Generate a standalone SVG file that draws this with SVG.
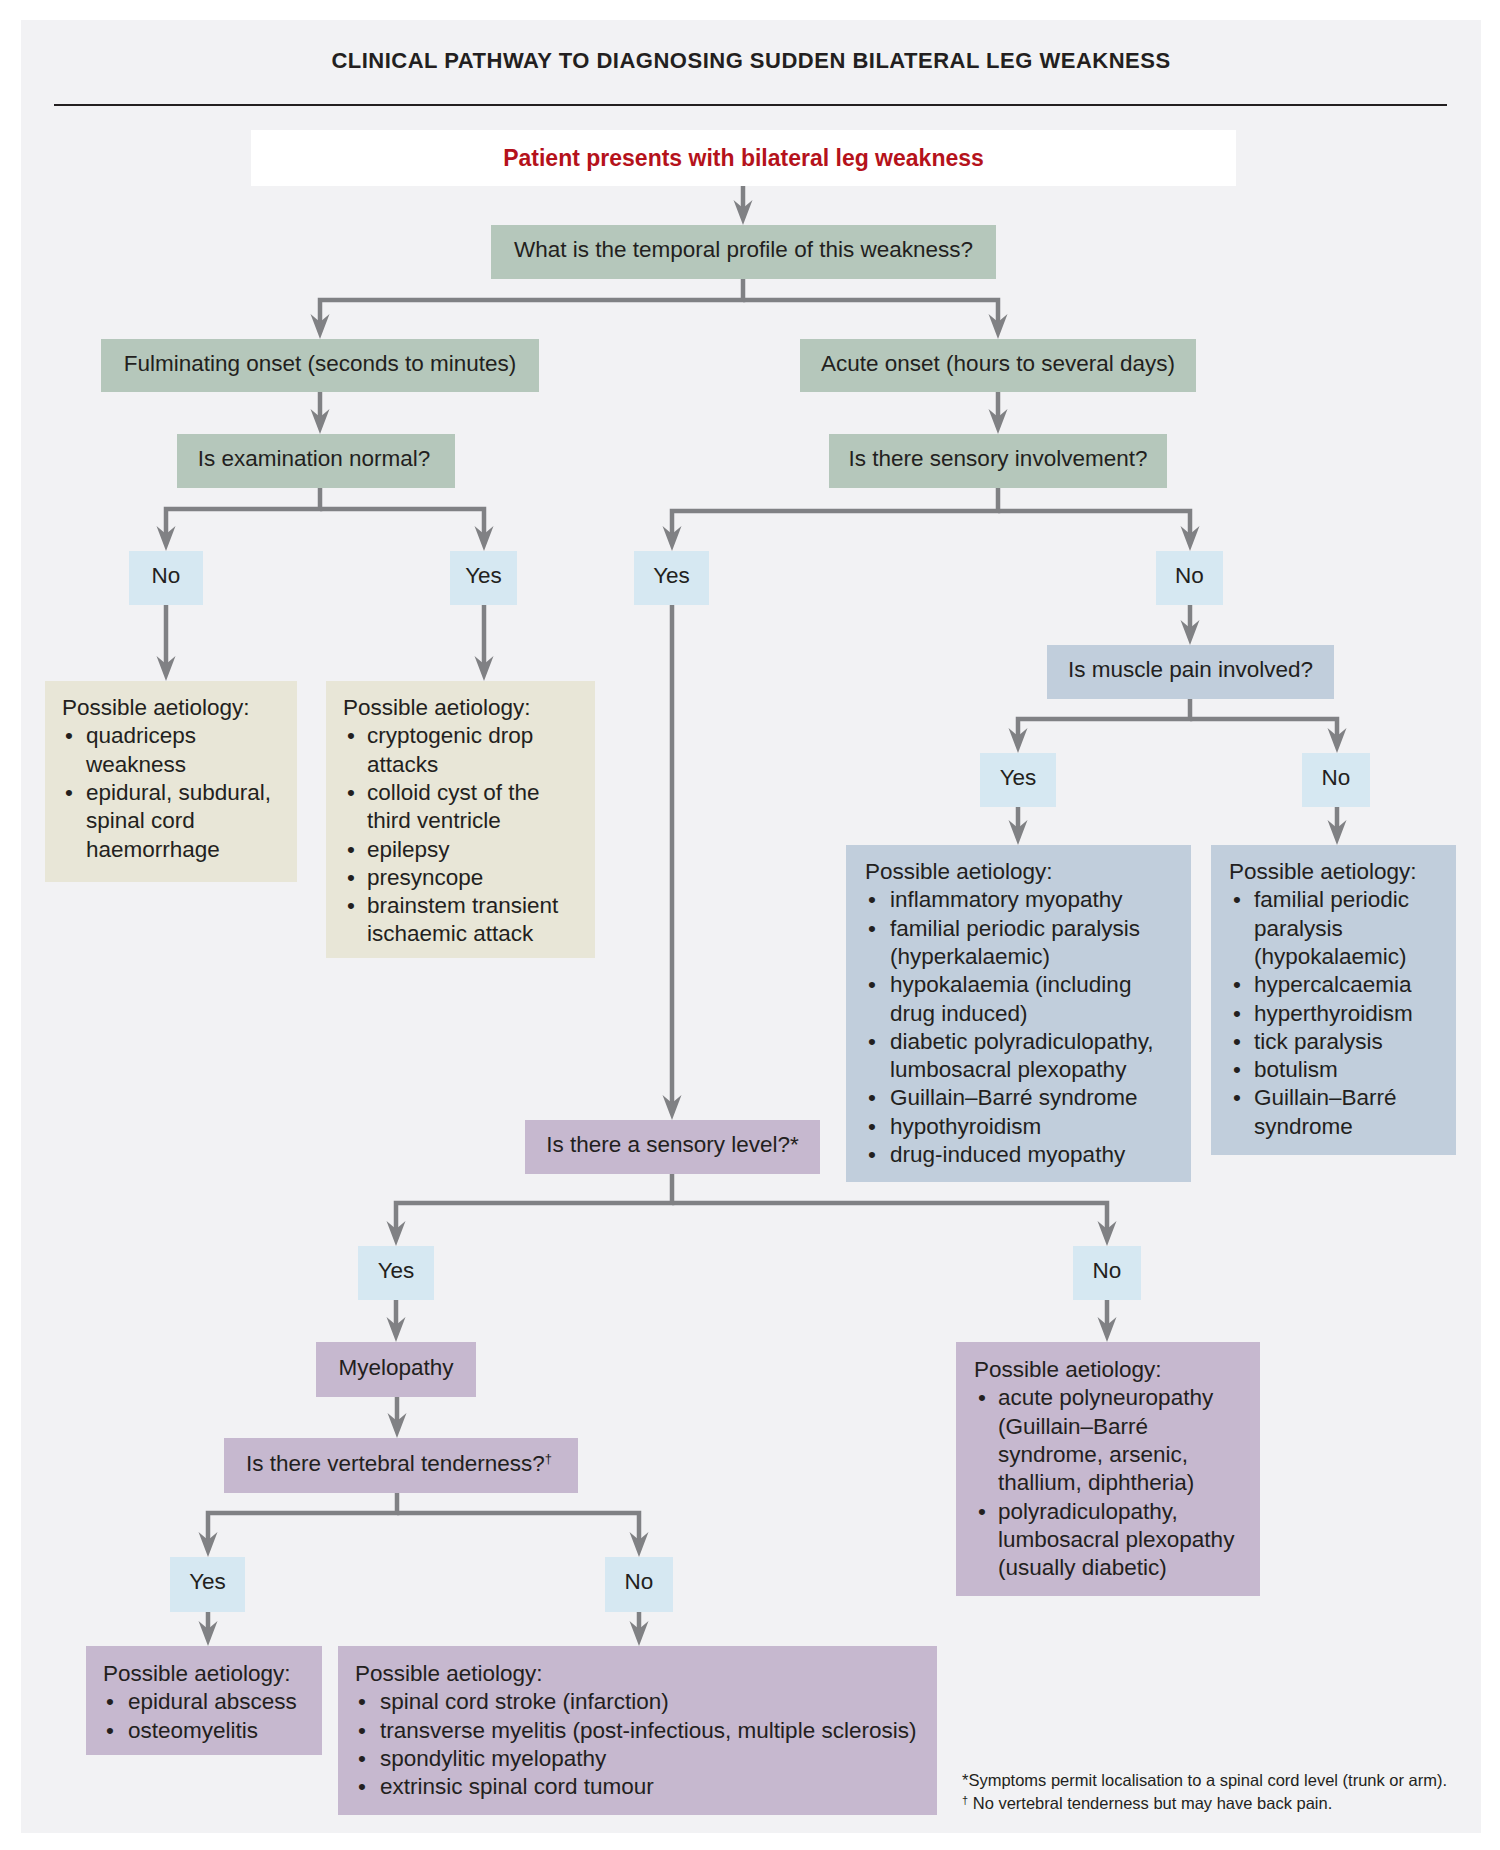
<svg xmlns="http://www.w3.org/2000/svg" width="1500" height="1850" viewBox="0 0 1500 1850">
<defs>
<style>
.t{font-family:"Liberation Sans",Arial,sans-serif;font-size:22.5px;fill:#231f20}
.c{text-anchor:middle}
.ttl{font-family:"Liberation Sans",Arial,sans-serif;font-size:22px;font-weight:bold;fill:#231f20;letter-spacing:0.5px;text-anchor:middle}
.red{font-family:"Liberation Sans",Arial,sans-serif;font-size:23px;font-weight:bold;fill:#b5121b;text-anchor:middle}
.fn{font-family:"Liberation Sans",Arial,sans-serif;font-size:16.5px;fill:#231f20}
.green{fill:#b5c7bb}
.beige{fill:#e8e6d7}
.lbl{fill:#d6e8f2}
.blue{fill:#c1cedc}
.purple{fill:#c6b8cf}
.conn{fill:none;stroke:#808184;stroke-width:4.5;marker-end:url(#arr)}
</style>
<marker id="arr" markerUnits="userSpaceOnUse" markerWidth="26" markerHeight="20" viewBox="0 -10 26 20" refX="13" refY="0" orient="auto">
<path d="M0,-9.5 L25,0 L0,9.5 L8,0 Z" fill="#808184"/>
</marker>
</defs>
<rect x="0" y="0" width="1500" height="1850" fill="#ffffff"/>
<rect x="21" y="20" width="1460" height="1813" fill="#f2f2f4"/>
<g id="title">
<text class="ttl" x="751" y="68">CLINICAL PATHWAY TO DIAGNOSING SUDDEN BILATERAL LEG WEAKNESS</text>
<line x1="54" y1="105" x2="1447" y2="105" stroke="#231f20" stroke-width="2"/>
</g>
<g id="connectors">
<path class="conn" d="M743,186 V213"/>
<path class="conn" d="M743,279 V300 H320 V327"/>
<path class="conn" d="M743,300 H998 V327"/>
<path class="conn" d="M320,392 V422"/>
<path class="conn" d="M998,392 V422"/>
<path class="conn" d="M320,488 V509 H166 V539"/>
<path class="conn" d="M320,509 H484 V539"/>
<path class="conn" d="M166,605 V669"/>
<path class="conn" d="M484,605 V669"/>
<path class="conn" d="M998,488 V511 H672 V539"/>
<path class="conn" d="M998,511 H1190 V539"/>
<path class="conn" d="M672,605 V1108"/>
<path class="conn" d="M1190,605 V633"/>
<path class="conn" d="M1190,699 V719 H1018 V741"/>
<path class="conn" d="M1190,719 H1337 V741"/>
<path class="conn" d="M1018,807 V833"/>
<path class="conn" d="M1337,807 V833"/>
<path class="conn" d="M672,1174 V1203 H396 V1234"/>
<path class="conn" d="M672,1203 H1107 V1234"/>
<path class="conn" d="M396,1300 V1330"/>
<path class="conn" d="M1107,1300 V1330"/>
<path class="conn" d="M397,1397 V1426"/>
<path class="conn" d="M397,1493 V1513 H208 V1545"/>
<path class="conn" d="M397,1513 H639 V1545"/>
<path class="conn" d="M208,1612 V1634"/>
<path class="conn" d="M639,1612 V1634"/>
</g>
<g id="start">
<rect x="251" y="130" width="985" height="56" fill="#ffffff"/>
<text class="red" x="743.5" y="166">Patient presents with bilateral leg weakness</text>
</g>
<g id="temporal">
<rect class="green" x="491" y="225" width="505" height="54"/>
<text class="t c" x="743.5" y="257">What is the temporal profile of this weakness?</text>
</g>
<g id="fulminating">
<rect class="green" x="101" y="339" width="438" height="53"/>
<text class="t c" x="320" y="370.5">Fulminating onset (seconds to minutes)</text>
</g>
<g id="acute">
<rect class="green" x="800" y="339" width="396" height="53"/>
<text class="t c" x="998" y="370.5">Acute onset (hours to several days)</text>
</g>
<g id="exam">
<rect class="green" x="177" y="434" width="278" height="54"/>
<text class="t c" x="314" y="466">Is examination normal?</text>
</g>
<g id="sensory">
<rect class="green" x="829" y="434" width="338" height="54"/>
<text class="t c" x="998" y="466">Is there sensory involvement?</text>
</g>
<g id="exam-no">
<rect class="lbl" x="129" y="551" width="74" height="54"/>
<text class="t c" x="166" y="583">No</text>
</g>
<g id="exam-yes">
<rect class="lbl" x="450" y="551" width="67" height="54"/>
<text class="t c" x="483.5" y="583">Yes</text>
</g>
<g id="sensory-yes">
<rect class="lbl" x="634" y="551" width="75" height="54"/>
<text class="t c" x="671.5" y="583">Yes</text>
</g>
<g id="sensory-no">
<rect class="lbl" x="1156" y="551" width="67" height="54"/>
<text class="t c" x="1189.5" y="583">No</text>
</g>
<g id="aet-exam-no">
<rect class="beige" x="45" y="681" width="252" height="201"/>
<text class="t"><tspan x="62" y="715">Possible aetiology:</tspan></text>
<text class="t c" x="69"><tspan y="743.3">•</tspan><tspan x="69" y="799.9">•</tspan></text>
<text class="t" x="86"><tspan y="743.3">quadriceps</tspan><tspan x="86" y="771.6">weakness</tspan><tspan x="86" y="799.9">epidural, subdural,</tspan><tspan x="86" y="828.2">spinal cord</tspan><tspan x="86" y="856.5">haemorrhage</tspan></text>
</g>
<g id="aet-exam-yes">
<rect class="beige" x="326" y="681" width="269" height="277"/>
<text class="t"><tspan x="343" y="715">Possible aetiology:</tspan></text>
<text class="t c" x="351"><tspan y="743.3">•</tspan><tspan x="351" y="799.9">•</tspan><tspan x="351" y="856.5">•</tspan><tspan x="351" y="884.8">•</tspan><tspan x="351" y="913.1">•</tspan></text>
<text class="t" x="367"><tspan y="743.3">cryptogenic drop</tspan><tspan x="367" y="771.6">attacks</tspan><tspan x="367" y="799.9">colloid cyst of the</tspan><tspan x="367" y="828.2">third ventricle</tspan><tspan x="367" y="856.5">epilepsy</tspan><tspan x="367" y="884.8">presyncope</tspan><tspan x="367" y="913.1">brainstem transient</tspan><tspan x="367" y="941.4">ischaemic attack</tspan></text>
</g>
<g id="muscle">
<rect class="blue" x="1047" y="645" width="287" height="54"/>
<text class="t c" x="1190.5" y="677">Is muscle pain involved?</text>
</g>
<g id="muscle-yes">
<rect class="lbl" x="980" y="753" width="76" height="54"/>
<text class="t c" x="1018" y="785">Yes</text>
</g>
<g id="muscle-no">
<rect class="lbl" x="1302" y="753" width="68" height="54"/>
<text class="t c" x="1336" y="785">No</text>
</g>
<g id="aet-muscle-yes">
<rect class="blue" x="846" y="845" width="345" height="337"/>
<text class="t"><tspan x="865" y="879">Possible aetiology:</tspan></text>
<text class="t c" x="872"><tspan y="907.3">•</tspan><tspan x="872" y="935.6">•</tspan><tspan x="872" y="992.2">•</tspan><tspan x="872" y="1048.8">•</tspan><tspan x="872" y="1105.4">•</tspan><tspan x="872" y="1133.7">•</tspan><tspan x="872" y="1162">•</tspan></text>
<text class="t" x="890"><tspan y="907.3">inflammatory myopathy</tspan><tspan x="890" y="935.6">familial periodic paralysis</tspan><tspan x="890" y="963.9">(hyperkalaemic)</tspan><tspan x="890" y="992.2">hypokalaemia (including</tspan><tspan x="890" y="1020.5">drug induced)</tspan><tspan x="890" y="1048.8">diabetic polyradiculopathy,</tspan><tspan x="890" y="1077.1">lumbosacral plexopathy</tspan><tspan x="890" y="1105.4">Guillain–Barré syndrome</tspan><tspan x="890" y="1133.7">hypothyroidism</tspan><tspan x="890" y="1162">drug-induced myopathy</tspan></text>
</g>
<g id="aet-muscle-no">
<rect class="blue" x="1211" y="845" width="245" height="310"/>
<text class="t"><tspan x="1229" y="879">Possible aetiology:</tspan></text>
<text class="t c" x="1237"><tspan y="907.3">•</tspan><tspan x="1237" y="992.2">•</tspan><tspan x="1237" y="1020.5">•</tspan><tspan x="1237" y="1048.8">•</tspan><tspan x="1237" y="1077.1">•</tspan><tspan x="1237" y="1105.4">•</tspan></text>
<text class="t" x="1254"><tspan y="907.3">familial periodic</tspan><tspan x="1254" y="935.6">paralysis</tspan><tspan x="1254" y="963.9">(hypokalaemic)</tspan><tspan x="1254" y="992.2">hypercalcaemia</tspan><tspan x="1254" y="1020.5">hyperthyroidism</tspan><tspan x="1254" y="1048.8">tick paralysis</tspan><tspan x="1254" y="1077.1">botulism</tspan><tspan x="1254" y="1105.4">Guillain–Barré</tspan><tspan x="1254" y="1133.7">syndrome</tspan></text>
</g>
<g id="sensory-level">
<rect class="purple" x="525" y="1120" width="295" height="54"/>
<text class="t c" x="672.5" y="1152">Is there a sensory level?*</text>
</g>
<g id="level-yes">
<rect class="lbl" x="358" y="1246" width="76" height="54"/>
<text class="t c" x="396" y="1278">Yes</text>
</g>
<g id="level-no">
<rect class="lbl" x="1073" y="1246" width="68" height="54"/>
<text class="t c" x="1107" y="1278">No</text>
</g>
<g id="myelopathy">
<rect class="purple" x="316" y="1342" width="160" height="55"/>
<text class="t c" x="396" y="1374.5">Myelopathy</text>
</g>
<g id="aet-level-no">
<rect class="purple" x="956" y="1342" width="304" height="254"/>
<text class="t"><tspan x="974" y="1377">Possible aetiology:</tspan></text>
<text class="t c" x="982"><tspan y="1405.3">•</tspan><tspan x="982" y="1518.5">•</tspan></text>
<text class="t" x="998"><tspan y="1405.3">acute polyneuropathy</tspan><tspan x="998" y="1433.6">(Guillain–Barré</tspan><tspan x="998" y="1461.9">syndrome, arsenic,</tspan><tspan x="998" y="1490.2">thallium, diphtheria)</tspan><tspan x="998" y="1518.5">polyradiculopathy,</tspan><tspan x="998" y="1546.8">lumbosacral plexopathy</tspan><tspan x="998" y="1575.1">(usually diabetic)</tspan></text>
</g>
<g id="vertebral">
<rect class="purple" x="224" y="1438" width="354" height="55"/>
<text class="t c" x="399" y="1470.5">Is there vertebral tenderness?<tspan font-size="13" dy="-8">†</tspan></text>
</g>
<g id="vert-yes">
<rect class="lbl" x="170" y="1557" width="75" height="55"/>
<text class="t c" x="207.5" y="1589">Yes</text>
</g>
<g id="vert-no">
<rect class="lbl" x="605" y="1557" width="68" height="55"/>
<text class="t c" x="639" y="1589">No</text>
</g>
<g id="aet-vert-yes">
<rect class="purple" x="86" y="1646" width="236" height="109"/>
<text class="t"><tspan x="103" y="1681">Possible aetiology:</tspan></text>
<text class="t c" x="110"><tspan y="1709.3">•</tspan><tspan x="110" y="1737.6">•</tspan></text>
<text class="t" x="128"><tspan y="1709.3">epidural abscess</tspan><tspan x="128" y="1737.6">osteomyelitis</tspan></text>
</g>
<g id="aet-vert-no">
<rect class="purple" x="338" y="1646" width="599" height="169"/>
<text class="t"><tspan x="355" y="1681">Possible aetiology:</tspan></text>
<text class="t c" x="362"><tspan y="1709.3">•</tspan><tspan x="362" y="1737.6">•</tspan><tspan x="362" y="1765.9">•</tspan><tspan x="362" y="1794.2">•</tspan></text>
<text class="t" x="380"><tspan y="1709.3">spinal cord stroke (infarction)</tspan><tspan x="380" y="1737.6">transverse myelitis (post-infectious, multiple sclerosis)</tspan><tspan x="380" y="1765.9">spondylitic myelopathy</tspan><tspan x="380" y="1794.2">extrinsic spinal cord tumour</tspan></text>
</g>
<g id="footnotes">
<text class="fn" x="962" y="1786">*Symptoms permit localisation to a spinal cord level (trunk or arm).</text>
<text class="fn" x="962" y="1809"><tspan font-size="11" dy="-5">†</tspan><tspan dy="5"> No vertebral tenderness but may have back pain.</tspan></text>
</g>
</svg>
